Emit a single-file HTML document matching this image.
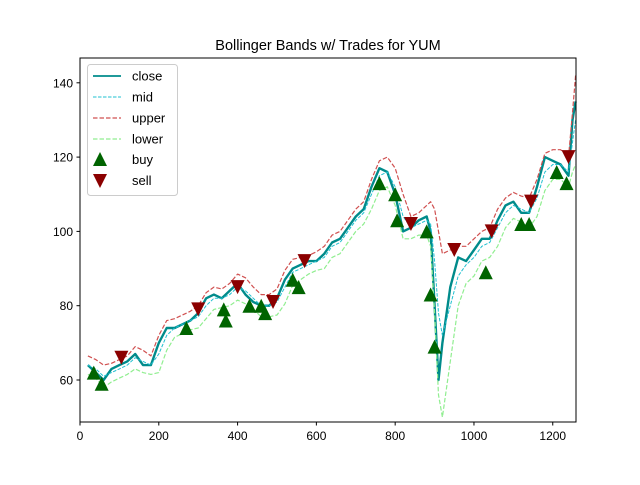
<!DOCTYPE html>
<html><head><meta charset="utf-8"><style>
body{margin:0;background:#fff;}
svg{font-family:"Liberation Sans","DejaVu Sans",sans-serif;}
</style></head><body>
<svg id="chart" width="640" height="480" viewBox="0 0 640 480" xmlns="http://www.w3.org/2000/svg">
<rect width="640" height="480" fill="#fff"/>
<text x="328" y="50" font-size="14.5" text-anchor="middle">Bollinger Bands w/ Trades for YUM</text>
<g id="plot"></g>
<rect x="80" y="58" width="496" height="364" fill="none" stroke="#000" stroke-width="1"/>
<g id="ticks"></g>
<g>
<rect x="87.5" y="64.5" width="90" height="131" rx="3" fill="#fff" fill-opacity="0.8" stroke="#ccc"/>
<line x1="93" y1="76" x2="121" y2="76" stroke="#008b8b" stroke-width="1.8"/>
<text x="132" y="80.5" font-size="13">close</text>
<line x1="93" y1="97" x2="121" y2="97" stroke="#20c0d0" stroke-width="1" stroke-dasharray="3.5,1.5"/>
<text x="132" y="101.5" font-size="13">mid</text>
<line x1="93" y1="118" x2="121" y2="118" stroke="#d05050" stroke-width="1.2" stroke-dasharray="4.5,2"/>
<text x="132" y="122.5" font-size="13">upper</text>
<line x1="93" y1="139" x2="121" y2="139" stroke="#90ee90" stroke-width="1.2" stroke-dasharray="4.5,2"/>
<text x="132" y="143.5" font-size="13">lower</text>
<polygon points="100,152 107,166 93,166" fill="#006400"/>
<text x="132" y="164" font-size="13">buy</text>
<polygon points="93,174 107,174 100,188" fill="#8b0000"/>
<text x="132" y="185" font-size="13">sell</text>
</g>
</svg>
<script>
const days=[20,40,60,80,100,120,140,160,180,200,220,240,260,280,300,320,340,360,380,400,420,440,460,480,500,520,540,560,580,600,620,640,660,680,700,720,740,760,780,800,820,840,860,880,890,900,910,920,940,960,980,1000,1020,1040,1060,1080,1100,1120,1140,1160,1180,1200,1220,1240,1250,1258];
const close=[64,62,60,63,64,65,67,64,64,70,74,74,75,76,78,82,83,82,84,86,83,81,80,80,82,87,90,91,92,92,94,97,98,101,104,106,112,117,116,110,100,101,103,104,100,80,60,70,85,93,92,95,98,98,103,107,108,105,105,112,120,119,118,115,130,135];
const mid=[64,63,61,62,63,64,66,65,64,67,72,74,75,76,77,80,82,82,83,85,84,82,80,80,81,85,89,90,91,92,93,96,97,100,103,105,110,115,116,112,104,101,102,103,102,92,78,72,80,88,91,93,96,97,101,105,107,106,105,109,116,118,118,116,124,130];
const band=[2.5,2.5,3,2.5,2.5,2.5,3,3,2.5,5,4,2.5,2.5,2.5,3,3.5,3,2.5,3,3.5,3.5,3,3,3,3.5,4.5,3.5,3,2.5,2.5,3,3,3,3,3,3,4,4,4,5,6,3,3,4,6,14,22,22,15,8,5,5,4,4,5,4,3.5,3.5,4,5,5,4,4,4,8,12];
const buyDays=[35,55,270,365,370,430,460,470,540,555,760,800,805,880,890,900,1030,1120,1140,1210,1235];
const buyVals=[62,59,74,79,76,80,80,78,87,85,113,110,103,100,83,69,89,102,102,116,113];
const sellDays=[105,300,400,490,570,840,950,1045,1145,1240];
const sellVals=[66,79,85,81,92,102,95,100,108,120];
const xTicks=[0,200,400,600,800,1000,1200];
const yTicks=[60,80,100,120,140];

const NS="http://www.w3.org/2000/svg";
const X=d=>80+d*(496/1259);
const Y=v=>380-(v-60)*(74.3/20);
const plot=document.getElementById('plot'),ticks=document.getElementById('ticks');
function mk(tag,attrs,parent){const e=document.createElementNS(NS,tag);for(const k in attrs)e.setAttribute(k,attrs[k]);parent.appendChild(e);return e;}
function line(vals,stroke,w,dash,name){
  const p=mk('polyline',{points:days.map((d,i)=>X(d).toFixed(1)+','+Y(vals[i]).toFixed(1)).join(' '),fill:'none',stroke:stroke,'stroke-width':w,'stroke-dasharray':dash,'stroke-linejoin':'round'},plot);
  
  
}
line(close,'#008b8b',2.4,'','close-line');
line(mid,'#20c0d0',1,'3.5,1.5','mid-line');
line(mid.map((m,i)=>m+band[i]),'#d05050',1.2,'4.5,2','upper-line');
line(mid.map((m,i)=>m-band[i]),'#90ee90',1.2,'4.5,2','lower-line');
buyDays.forEach((d,i)=>{const x=X(d),y=Y(buyVals[i]);
  const t=mk('polygon',{points:`${x},${y-7} ${x+7},${y+7} ${x-7},${y+7}`,fill:'#006400'},plot);
  
  });
sellDays.forEach((d,i)=>{const x=X(d),y=Y(sellVals[i]);
  const t=mk('polygon',{points:`${x-7},${y-7} ${x+7},${y-7} ${x},${y+7}`,fill:'#8b0000'},plot);
  
  });
xTicks.forEach(v=>{const x=X(v);
  mk('line',{x1:x,y1:422,x2:x,y2:425.5,stroke:'#000'},ticks);
  const t=mk('text',{x:x,y:440,'font-size':12,'text-anchor':'middle'},ticks);t.textContent=v;
  
  });
yTicks.forEach(v=>{const y=Y(v);
  mk('line',{x1:76.5,y1:y,x2:80,y2:y,stroke:'#000'},ticks);
  const t=mk('text',{x:73,y:y+4.5,'font-size':12,'text-anchor':'end'},ticks);t.textContent=v;
  
  });
</script>
</body></html>
